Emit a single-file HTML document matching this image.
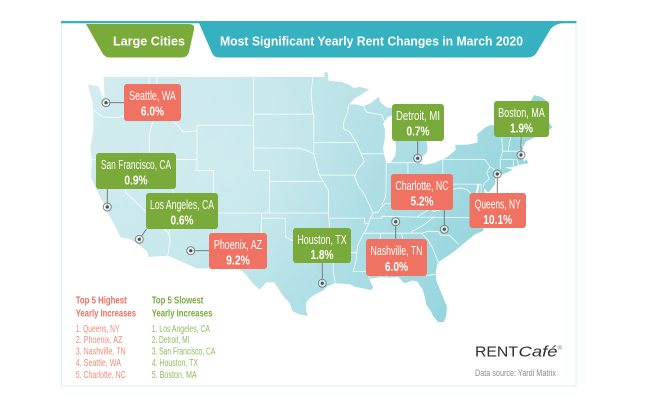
<!DOCTYPE html>
<html>
<head>
<meta charset="utf-8">
<style>
  html,body{margin:0;padding:0;background:#ffffff;width:650px;height:409px;overflow:hidden;}
  svg{display:block;}
  .nar{font-family:"Liberation Sans Narrow","Liberation Sans",sans-serif;}
  .hdr{font-family:"Liberation Sans",sans-serif;font-weight:bold;fill:#ffffff;font-size:12.5px;}
  .bt{fill:#ffffff;font-size:12.5px;text-anchor:middle;}
  .bp{fill:#ffffff;font-size:12.8px;font-weight:bold;text-anchor:middle;}
  .st{fill:none;stroke:#ffffff;stroke-width:0.8;stroke-opacity:0.9;stroke-linejoin:round;}
  .pl{stroke:#6f6f6f;stroke-width:0.9;fill:none;}
</style>
</head>
<body>
<svg width="650" height="409" viewBox="0 0 650 409" xmlns="http://www.w3.org/2000/svg" xmlns:xlink="http://www.w3.org/1999/xlink">
  <defs>
    <linearGradient id="mapg" gradientUnits="userSpaceOnUse" x1="90" y1="90" x2="520" y2="310">
      <stop offset="0" stop-color="#d3ecef"/>
      <stop offset="0.45" stop-color="#bde4e9"/>
      <stop offset="0.75" stop-color="#a2dae1"/>
      <stop offset="1" stop-color="#8bd1da"/>
    </linearGradient>
    <radialGradient id="glow" gradientUnits="userSpaceOnUse" cx="230" cy="170" r="140">
      <stop offset="0" stop-color="#ffffff" stop-opacity="0.2"/>
      <stop offset="1" stop-color="#ffffff" stop-opacity="0"/>
    </radialGradient>
    <path id="us" d="M103.5,77 L324.3,77 L324.3,72.3 L327.5,72.3 L328.7,80.7 L341.7,82 L349.8,85 L353.9,88.1 L359.5,86.9 L369.2,89.3 L361.9,94.1 L353.9,99 L349,104.4 L356.3,104.4 L363.2,106.2 L370.5,103.2 L379,96.6 L379.8,101.4 L386.3,107.4 L394.4,108 L402.5,105 L409,106.8 L410.6,108.6 L415.4,113.4 L409,115.1 L413,118.1 L420.7,125.1 L421.5,133.3 L416.2,141.2 L420,139 L423.5,136.1 L426.8,142.4 L427.6,148.1 L426.8,152.6 L421.9,157.1 L418.6,162.7 L425.1,164.9 L434.9,162.7 L447,157.1 L455.9,149.8 L455.1,144.7 L467.3,144.7 L477.8,142.4 L477,134.4 L485.1,127.5 L490,125.1 L515.9,125.1 L519.1,121.6 L521.5,120.5 L528,105 L534.4,95 L541.8,97.2 L545.8,100.2 L545.8,116.9 L552.3,127.5 L544.2,133.3 L534.4,137.8 L526.3,141.3 L523.1,147 L522.3,151.5 L519.9,155.4 L523.2,159.9 L524,161.7 L526.3,159 L528.4,163.3 L522.7,164.3 L519,164.9 L512.6,167.1 L504.5,167.4 L509.4,168.7 L512.6,169.9 L505.3,173.2 L496.4,175.4 L495.6,176.5 L494.8,184.5 L488.3,192.6 L483.5,187.8 L483.1,185.6 L485.1,194.2 L487.1,197.9 L485.9,202.6 L482.6,206.9 L480.2,211.9 L479.4,214 L480.2,217.6 L483.5,225.2 L483.5,230.7 L475.3,234.2 L471.3,237.2 L463.2,244 L455.1,250.8 L447,256.5 L438.1,262.2 L435.6,271.5 L436.4,280.6 L442.1,294.9 L447,307 L446.2,315.5 L443.8,322 L438.1,322 L433.2,316.3 L430.8,311.3 L426,304.4 L425.1,298.4 L422.7,289.6 L417.1,281.5 L412.2,280.6 L404.1,283.3 L398.4,277 L386.3,277.9 L382.2,277 L369.2,278.8 L373.3,287.8 L370.9,290 L364.4,288.7 L355.5,286.9 L349.8,284.3 L335.3,283.3 L328,286 L323.1,290.5 L314.2,294.9 L309.4,298.4 L306.2,302.8 L306.2,310.4 L307.8,315.9 L299.8,314.6 L292.6,311.3 L289.4,302.8 L283,295.8 L274.2,282.4 L266.2,282.4 L259.8,289.6 L253.4,284.3 L245.4,274.3 L233.4,264.2 L219.8,264.2 L219.8,268.4 L196.8,268.4 L167.8,255.6 L148.6,257 L147,251.7 L139.8,245.4 L137.4,243 L129.4,239.1 L120.6,237.2 L115,226.2 L110.2,217.1 L106.2,210.9 L105.4,204.7 L101.4,199.5 L95,186.7 L91,177 L91.8,159.4 L90.2,148.1 L93.4,130.9 L93.4,111 L92.6,102.6 L87.8,84.4 L99,86.5 L102.5,98 L104.5,97 Z"/>
  </defs>

  <!-- card -->
  <rect x="61.5" y="21.5" width="514.5" height="364.5" fill="#ffffff" stroke="#d9eff3" stroke-width="1"/>
  <rect x="61" y="21" width="515.5" height="2.3" fill="#38b2c1"/>

  <!-- header tabs -->
  <path d="M199,21 L565,21 L565,23 Q555,23 550,30 L537,52 Q534,57.5 528,57.5 L219,57.5 Q214,57.5 212,53 L199,23 Z" fill="#35b1c0"/>
  <path d="M86,24 L189,24 Q195,24 194,29.5 L189,52 Q187.5,57.5 181,57.5 L110,57.5 Q104.5,57.5 102,52.5 Z" fill="#7aaa3a"/>
  <text class="hdr" x="113" y="45.5" textLength="72" lengthAdjust="spacingAndGlyphs">Large Cities</text>
  <text class="hdr" x="220" y="45.5" textLength="303" lengthAdjust="spacingAndGlyphs">Most Significant Yearly Rent Changes in March 2020</text>

  <!-- map -->
  <use xlink:href="#us" href="#us" fill="url(#mapg)"/>
  <use xlink:href="#us" href="#us" fill="url(#glow)"/>
  <!-- Lake Michigan -->
  <path fill="#ffffff" d="M386.3,163.3 L383.9,153.8 L383.1,148.1 L384.7,139 L385.4,130.9 L383.1,124 L388,116.9 L394.4,114.6 L402.5,113.4 L406.5,116.3 L402.5,122.8 L396.8,129.8 L395.2,139 L396,148.1 L395.2,156 L391.1,161.6 Z"/>
  <path d="M478.6,184 L477,192 L476.5,200 L478,207 L479.4,213" stroke="#ffffff" stroke-width="2" fill="none"/>

  <!-- state lines -->
  <g class="st">
    <path d="M93.4,110.4 L103,116.9 L117.4,117.5 L129.4,114.6 L133.4,113.4 L150.2,113.4"/>
    <path d="M149.1,77 L149.1,113.4"/>
    <path d="M150.2,113.4 L153.4,119.2 L150.2,130.9 L149.4,133.1 L149.1,159.4"/>
    <path d="M91.8,159.4 L197,159.4"/>
    <path d="M125.4,159.4 L125.4,192.1 L168.6,233.2 L170.2,240 L167.8,255.6"/>
    <path d="M173,159.4 L173,222.2 L168.6,233.2"/>
    <path d="M173,213 L213.4,213"/>
    <path d="M213.4,170.4 L213.4,268.4"/>
    <path d="M197,125.1 L197,170.4 L213.4,170.4"/>
    <path d="M197,130.9 L183,132 L177.4,125.1 L169.4,118 L171,106 L161.4,97.7 L157,90.5 L157,77"/>
    <path d="M197,125.1 L253.4,125.1"/>
    <path d="M253.4,77 L253.4,170.4 L269.4,170.4 L269.4,213"/>
    <path d="M213.4,213 L328.6,213"/>
    <path d="M261.4,213 L261.4,262.2 L233,263"/>
    <path d="M261.4,218.1 L285.4,218.1 L285.4,237.1 L293.4,241 L301.4,242 L309.4,245 L317.4,244 L325.5,244 L333.2,247"/>
    <path d="M333.2,247 L333.2,271.5 L335.3,283.3"/>
    <path d="M333.2,252.7 L356.7,252.7"/>
    <path d="M333.2,247 L330,229.2 L328.6,218.1 L328.6,190.2 L326.3,186.7 L323.1,181.3 L319.3,175.1"/>
    <path d="M269.4,181.3 L323.1,181.3"/>
    <path d="M253.4,148.1 L297.4,148.1 L305.4,150 L313.8,153.8"/>
    <path d="M253.4,114.1 L313,114.1"/>
    <path d="M312.9,77 L311,95 L313,114.1"/>
    <path d="M313.8,114.1 L313.8,153.8"/>
    <path d="M313.8,142.4 L356.3,142.4"/>
    <path d="M319.3,175.1 L354.7,175.1 L355.1,177.2"/>
    <path d="M313.8,153.8 L316.6,164.9 L319.3,175.1"/>
    <path d="M349,104.4 L347.4,113.4 L343.8,121.6 L343.4,128.6 L349.8,132.1 L356.3,142.4"/>
    <path d="M356.3,142.4 L361.1,153.8 L364.3,161.6 L357,170.4 L354.7,177.2 L358.7,186.7 L364.4,194.2 L369.3,204.7 L372.8,213.2 L370.3,218.1 L368.7,223.2 L365.4,231.2 L363.8,233.2 L361.3,238.1 L357.9,245 L356.7,252.7 L356.3,259.4 L354.7,266.1 L353.1,271.5 L368.5,271.5 L369.2,278.8"/>
    <path d="M361.1,153.8 L383.9,153.8"/>
    <path d="M385.4,124 L382.2,115.7 L380.6,114.6 L366.8,112.3 L363.2,106.2"/>
    <path d="M386.3,162.7 L386,192.1 L385.4,197.4 L381.8,204.7"/>
    <path d="M407.9,162.7 L407.9,191"/>
    <path d="M386.3,162.7 L418.6,162.7"/>
    <path d="M372.8,213.2 L378.5,211.9 L380.9,207.7 L385,203.6 L392.3,203.6 L398.4,202.6 L402.5,199.5 L408.1,194.2 L410.6,191 L417.1,195.3 L426,197.4 L430.8,192.1 L434.9,187.8 L438.9,185.6 L442.1,174.8"/>
    <path d="M442.8,174.4 L442.8,157.5"/>
    <path d="M442.8,159.4 L484.7,159.4 L490,166.6 L495.6,170.4"/>
    <path d="M442.8,184.1 L481.1,184.1 L481.1,197.9 L486.8,197.9"/>
    <path d="M451.2,184.1 L451.2,189.6 L460,187.8 L467.3,189.6 L471.3,194.2 L477,202.6"/>
    <path d="M451.2,189.6 L448,197.4 L444.6,208.2 L438.9,210.3 L433.2,211.4 L430.8,208.2 L427.6,203.6 L426,197.4"/>
    <path d="M430.8,208.2 L417.1,217.1"/>
    <path d="M370.3,218.1 L382,218.1 L382,216.2 L417.1,217.1 L480.2,217.6"/>
    <path d="M433.6,217.1 L427.6,222.2 L421.9,226.2 L412.2,231.2 L412,233.3"/>
    <path d="M363.8,233.2 L421.9,233.2"/>
    <path d="M328.6,218.1 L364.6,218.1 L364.6,223.2 L368.7,223.2"/>
    <path d="M380.6,233.2 L378.6,263.1 L379,277"/>
    <path d="M401.6,233.2 L404.9,253.7 L406.5,262.2 L406.5,271.5"/>
    <path d="M385.4,271.5 L406.5,271.5 M385.4,271.5 L387.1,277.9"/>
    <path d="M406.5,271.5 L407.3,274.3 L429.2,275.2 L435.2,274.3"/>
    <path d="M421.9,233.3 L428.4,240.7 L432.4,247.6 L438.1,261.7"/>
    <path d="M421.9,233.2 L427.6,231.2 L438.9,231.7 L439.7,233.2 L440.5,235.2 L449.4,235.2 L458.7,244.5"/>
    <path d="M501.9,125.1 L501.9,141.2 L502.7,151.2 L500.3,159.4 L500.3,169.3"/>
    <path d="M515.9,125.1 L511.8,133.3 L509.4,142.4 L508.2,151.2"/>
    <path d="M502.7,151.2 L518,151.2 L521.2,149.7"/>
    <path d="M500.3,159.4 L516.7,159.4 M513.4,159.4 L513.4,167.1 M516.7,159.4 L519,164.9"/>
    <path d="M519.1,121.6 L519.9,136.7 L522.3,147"/>
    <path d="M490,166.6 L486.7,172.6 L489.2,179.1 L484.3,183.2 L483.1,186.7"/>
  </g>

  <!-- connector lines -->
  <g class="pl">
    <path d="M106,102.7 L124,102.7"/>
    <path d="M107.3,189 L107.3,207"/>
    <path d="M139.3,239.3 L146.5,229"/>
    <path d="M190.7,250.7 L209,250.7"/>
    <path d="M322.3,263 L322.3,283.3"/>
    <path d="M395.7,221.7 L395.7,239"/>
    <path d="M444.3,210 L444.3,229.3"/>
    <path d="M497.3,174 L497.3,193"/>
    <path d="M417.7,141 L417.7,158.3"/>
    <path d="M521,137 L521,155"/>
  </g>
  <!-- pins -->
  <g>
    <g fill="#eef6f7" fill-opacity="0.6" stroke="#7a7a7a" stroke-width="0.9">
      <circle cx="106" cy="102.7" r="4"/>
      <circle cx="107.3" cy="207" r="4"/>
      <circle cx="139.3" cy="239.3" r="4"/>
      <circle cx="190.7" cy="250.7" r="4"/>
      <circle cx="322.3" cy="283.3" r="4"/>
      <circle cx="395.7" cy="221.7" r="4"/>
      <circle cx="444.3" cy="229.3" r="4"/>
      <circle cx="497.3" cy="174" r="4"/>
      <circle cx="417.7" cy="158.3" r="4"/>
      <circle cx="521" cy="155" r="4"/>
    </g>
    <g fill="#4d4d4d">
      <circle cx="106" cy="102.7" r="1.6"/>
      <circle cx="107.3" cy="207" r="1.6"/>
      <circle cx="139.3" cy="239.3" r="1.6"/>
      <circle cx="190.7" cy="250.7" r="1.6"/>
      <circle cx="322.3" cy="283.3" r="1.6"/>
      <circle cx="395.7" cy="221.7" r="1.6"/>
      <circle cx="444.3" cy="229.3" r="1.6"/>
      <circle cx="497.3" cy="174" r="1.6"/>
      <circle cx="417.7" cy="158.3" r="1.6"/>
      <circle cx="521" cy="155" r="1.6"/>
    </g>
  </g>

  <!-- boxes -->
  <g class="nar">
    <rect x="124" y="84" width="57" height="37" rx="3" fill="#f07262"/>
    <text class="bt" x="152.5" y="99.8" textLength="46.7" lengthAdjust="spacingAndGlyphs">Seattle, WA</text>
    <text class="bp" x="152.5" y="115.5" textLength="23.3" lengthAdjust="spacingAndGlyphs">6.0%</text>

    <rect x="392" y="104" width="52" height="37" rx="3" fill="#7aaa3a"/>
    <text class="bt" x="418" y="119.8" textLength="44" lengthAdjust="spacingAndGlyphs">Detroit, MI</text>
    <text class="bp" x="418" y="135.5" textLength="23" lengthAdjust="spacingAndGlyphs">0.7%</text>

    <rect x="494" y="101" width="55" height="36" rx="3" fill="#7aaa3a"/>
    <text class="bt" x="521.5" y="116.8" textLength="46.7" lengthAdjust="spacingAndGlyphs">Boston, MA</text>
    <text class="bp" x="521.5" y="132.3" textLength="23" lengthAdjust="spacingAndGlyphs">1.9%</text>

    <rect x="96" y="153" width="80" height="36" rx="3" fill="#7aaa3a"/>
    <text class="bt" x="136" y="169" textLength="70.3" lengthAdjust="spacingAndGlyphs">San Francisco, CA</text>
    <text class="bp" x="136" y="184.3" textLength="23.3" lengthAdjust="spacingAndGlyphs">0.9%</text>

    <rect x="391" y="174" width="62" height="36" rx="3" fill="#f07262"/>
    <text class="bt" x="422" y="189.8" textLength="53.3" lengthAdjust="spacingAndGlyphs">Charlotte, NC</text>
    <text class="bp" x="422" y="205.3" textLength="23" lengthAdjust="spacingAndGlyphs">5.2%</text>

    <rect x="469.5" y="193" width="56.5" height="35" rx="3" fill="#f07262"/>
    <text class="bt" x="497.75" y="208.6" textLength="46" lengthAdjust="spacingAndGlyphs">Queens, NY</text>
    <text class="bp" x="497.75" y="223.8" textLength="29" lengthAdjust="spacingAndGlyphs">10.1%</text>

    <rect x="146" y="193" width="72" height="36" rx="3" fill="#7aaa3a"/>
    <text class="bt" x="182" y="209" textLength="64" lengthAdjust="spacingAndGlyphs">Los Angeles, CA</text>
    <text class="bp" x="182" y="224.5" textLength="23" lengthAdjust="spacingAndGlyphs">0.6%</text>

    <rect x="209" y="233" width="58" height="36" rx="3" fill="#f07262"/>
    <text class="bt" x="238" y="249" textLength="48.3" lengthAdjust="spacingAndGlyphs">Phoenix, AZ</text>
    <text class="bp" x="238" y="264.5" textLength="23.7" lengthAdjust="spacingAndGlyphs">9.2%</text>

    <rect x="293" y="228" width="58" height="35" rx="3" fill="#7aaa3a"/>
    <text class="bt" x="322" y="243.8" textLength="49.3" lengthAdjust="spacingAndGlyphs">Houston, TX</text>
    <text class="bp" x="322" y="259" textLength="23" lengthAdjust="spacingAndGlyphs">1.8%</text>

    <rect x="366" y="239" width="61" height="37" rx="3" fill="#f07262"/>
    <text class="bt" x="396.5" y="255" textLength="52" lengthAdjust="spacingAndGlyphs">Nashville, TN</text>
    <text class="bp" x="396.5" y="270.8" textLength="23.3" lengthAdjust="spacingAndGlyphs">6.0%</text>
  </g>

  <!-- legend -->
  <g class="nar">
    <text x="75.7" y="303.7" font-size="10.5" font-weight="bold" fill="#f06f5e" textLength="51" lengthAdjust="spacingAndGlyphs">Top 5 Highest</text>
    <text x="75.7" y="316.7" font-size="10.5" font-weight="bold" fill="#f06f5e" textLength="60.3" lengthAdjust="spacingAndGlyphs">Yearly Increases</text>
    <g font-size="10" fill="#f38a7c">
      <text x="75.7" y="331.8" textLength="43.7" lengthAdjust="spacingAndGlyphs">1. Queens, NY</text>
      <text x="75.7" y="343" textLength="46.7" lengthAdjust="spacingAndGlyphs">2. Phoenix, AZ</text>
      <text x="75.7" y="354.5" textLength="50" lengthAdjust="spacingAndGlyphs">3. Nashville, TN</text>
      <text x="75.7" y="366" textLength="45.3" lengthAdjust="spacingAndGlyphs">4. Seattle, WA</text>
      <text x="75.7" y="377.8" textLength="50" lengthAdjust="spacingAndGlyphs">5. Charlotte, NC</text>
    </g>
    <text x="151.7" y="303.7" font-size="10.5" font-weight="bold" fill="#77a83b" textLength="51.7" lengthAdjust="spacingAndGlyphs">Top 5 Slowest</text>
    <text x="151.7" y="316.7" font-size="10.5" font-weight="bold" fill="#77a83b" textLength="60.7" lengthAdjust="spacingAndGlyphs">Yearly Increases</text>
    <g font-size="10" fill="#8dbd5c">
      <text x="151.7" y="331.8" textLength="58.3" lengthAdjust="spacingAndGlyphs">1. Los Angeles, CA</text>
      <text x="151.7" y="343" textLength="37.7" lengthAdjust="spacingAndGlyphs">2. Detroit, MI</text>
      <text x="151.7" y="354.5" textLength="63.7" lengthAdjust="spacingAndGlyphs">3. San Francisco, CA</text>
      <text x="151.7" y="366" textLength="46.3" lengthAdjust="spacingAndGlyphs">4. Houston, TX</text>
      <text x="151.7" y="377.8" textLength="45" lengthAdjust="spacingAndGlyphs">5. Boston, MA</text>
    </g>
  </g>

  <!-- logo & source -->
  <g font-family="Liberation Sans, sans-serif">
    <text x="475" y="356.7" font-size="14.5" fill="#2e2e2e" textLength="43" lengthAdjust="spacingAndGlyphs">RENT</text>
    <text x="518.5" y="356.7" font-size="14.5" font-style="italic" fill="#2e2e2e" textLength="39" lengthAdjust="spacingAndGlyphs">Café</text>
    <text x="557.5" y="350" font-size="6" fill="#777777">®</text>
  </g>
  <text class="nar" x="475" y="376" font-size="9" fill="#8a8a8a" textLength="81" lengthAdjust="spacingAndGlyphs">Data source:  Yardi Matrix</text>
</svg>
</body>
</html>
